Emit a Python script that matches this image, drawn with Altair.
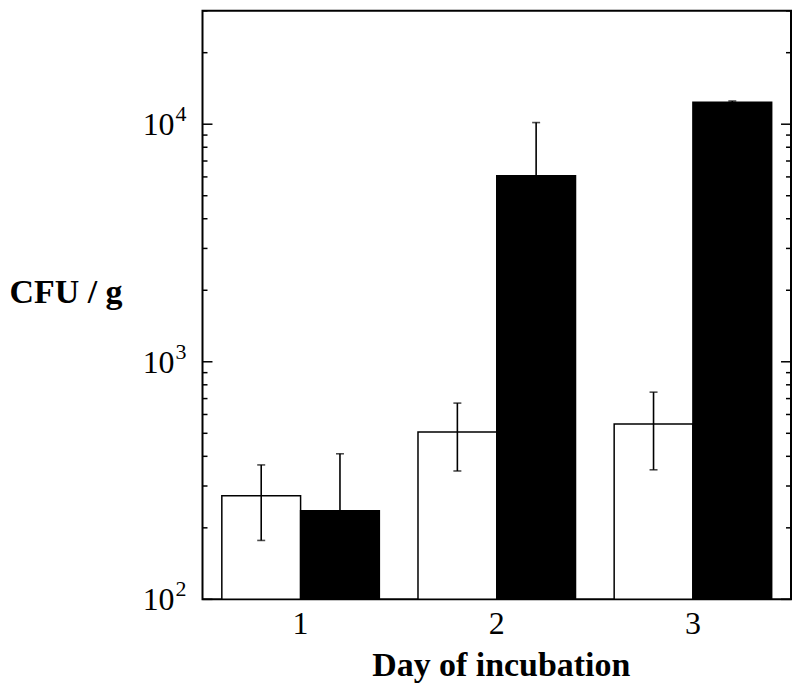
import altair as alt
import pandas as pd

days = ["1", "2", "3"]
series = ["Open", "Filled"]
open_mean = [273, 506, 547]
open_low = [177, 347, 351]
open_high = [368, 670, 745]
filled_mean = [236, 6070, 12370]
filled_low = [236, 6070, 12370]
filled_high = [410, 10160, 12520]

axis_min, axis_max = 100, 30000
major_ticks = [100, 1000, 10000]
minor_ticks = [200, 300, 400, 500, 600, 700, 800, 900,
               2000, 3000, 4000, 5000, 6000, 7000, 8000, 9000,
               20000, 30000]
label_exponents = [2, 3, 4]

rows = []
for i, d in enumerate(days):
    rows.append({"day": d, "series": "Open", "v": open_mean[i], "lo": open_low[i], "hi": open_high[i]})
    rows.append({"day": d, "series": "Filled", "v": filled_mean[i], "lo": filled_low[i], "hi": filled_high[i]})
df = pd.DataFrame(rows)

W, H = 590, 590
yscale = alt.Scale(type="log", domain=[axis_min, axis_max], nice=False)
SERIF = "Liberation Serif"

xenc = alt.X("day:N", sort=days,
             scale=alt.Scale(paddingInner=0.197, paddingOuter=0.0985),
             axis=alt.Axis(title="Day of incubation", labelAngle=0, ticks=False, domain=False,
                           labelFont=SERIF, labelFontSize=32, labelPadding=9, labelColor="black",
                           titleFont=SERIF, titleFontSize=34, titleFontWeight="bold", titleColor="black",
                           titleBaseline="alphabetic", titleY=76, titleX=W / 2 + 4, titleAlign="center"))
xoff = alt.XOffset("series:N", sort=series, scale=alt.Scale(paddingInner=0, paddingOuter=0))

bars = alt.Chart(df).mark_bar(stroke="black", strokeWidth=1.5).encode(
    x=xenc,
    xOffset=xoff,
    y=alt.Y("v:Q", scale=yscale,
            axis=alt.Axis(title="CFU / g", labels=False, ticks=False, domain=False, grid=False,
                          titleFont=SERIF, titleFontSize=34, titleFontWeight="bold", titleColor="black",
                          titleAngle=0, titleAlign="left", titleBaseline="alphabetic",
                          titleX=-194, titleY=292)),
    y2=alt.Y2(datum=axis_min),
    fill=alt.Fill("series:N", sort=series, scale=alt.Scale(domain=series, range=["white", "black"]), legend=None),
)

err = alt.Chart(df).mark_rule(color="black", strokeWidth=1.6).encode(
    x=alt.X("day:N", sort=days), xOffset=xoff,
    y=alt.Y("lo:Q", scale=yscale), y2="hi:Q",
)
cap_hi = alt.Chart(df).mark_tick(color="black", orient="horizontal", size=8, thickness=1.6).encode(
    x=alt.X("day:N", sort=days), xOffset=xoff,
    y=alt.Y("hi:Q", scale=yscale),
)
cap_lo = alt.Chart(df[df.series == "Open"]).mark_tick(color="black", orient="horizontal", size=8, thickness=1.6).encode(
    x=alt.X("day:N", sort=days), xOffset=xoff,
    y=alt.Y("lo:Q", scale=yscale),
)

maj = pd.DataFrame({"t": major_ticks})
mnr = pd.DataFrame({"t": minor_ticks})

def tick_layer(data, x0, x1):
    return alt.Chart(data).mark_rule(color="black", strokeWidth=1.5).encode(
        y=alt.Y("t:Q", scale=yscale), x=alt.value(x0), x2=alt.value(x1))

ticks = [tick_layer(maj, 0, 10), tick_layer(mnr, 0, 5),
         tick_layer(maj, W - 10, W), tick_layer(mnr, W - 5, W)]

lab = pd.DataFrame({"e": label_exponents, "t": [10 ** e for e in label_exponents]})
lab["s"] = lab["e"].astype(str)
lab_base = alt.Chart(lab).mark_text(font=SERIF, fontSize=32, align="right", baseline="alphabetic",
                                    dy=11, color="black").encode(
    y=alt.Y("t:Q", scale=yscale), x=alt.value(-28), text=alt.value("10"))
lab_exp = alt.Chart(lab).mark_text(font=SERIF, fontSize=22, align="left", baseline="alphabetic",
                                   dy=-3, color="black").encode(
    y=alt.Y("t:Q", scale=yscale), x=alt.value(-27), text="s:N")

chart = alt.layer(bars, err, cap_hi, cap_lo, *ticks, lab_base, lab_exp).properties(
    width=W, height=H, background="white",
    padding={"left": 1, "top": 1, "right": 0, "bottom": 0},
).configure_view(stroke="black", strokeWidth=2)

chart.save("out.html", embed_options={"renderer": "svg", "actions": False})
